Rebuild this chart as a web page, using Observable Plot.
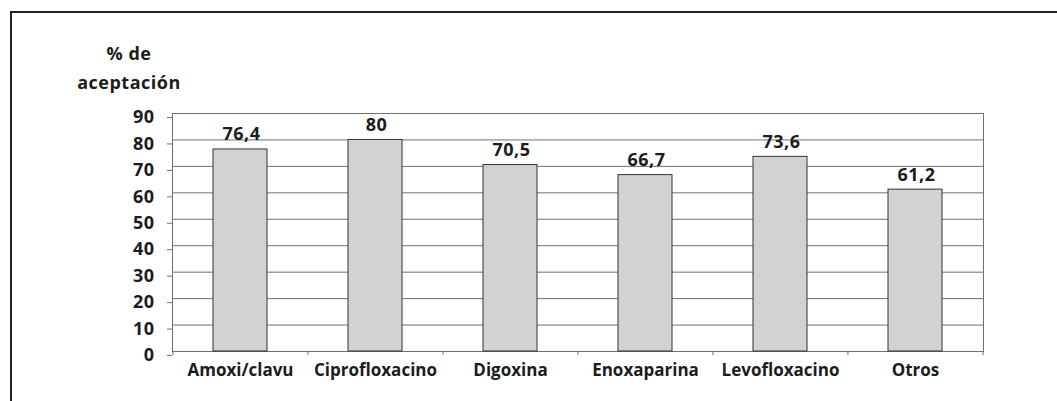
<!DOCTYPE html>
<html>
<head>
<meta charset="utf-8">
<script src="https://cdn.jsdelivr.net/npm/d3@7"></script>
<script src="https://cdn.jsdelivr.net/npm/@observablehq/plot@0.6"></script>
<style>
  body { margin: 0; background: #fff; }
  #wrap { position: relative; width: 1057px; height: 401px; overflow: hidden; background: #fff; }
  #wrap svg { position: absolute; left: 0; top: 0; }
  #wrap g[aria-label="x-axis tick label"] { letter-spacing: 0; }
  #border { position: absolute; left: 10px; top: 11px; width: 1200px; height: 600px;
            border-top: 2px solid #222; border-left: 2px solid #222; pointer-events: none; }
</style>
</head>
<body>
<div id="wrap"></div>
<script>
// ---- data ----
const categories = ["Amoxi/clavu", "Ciprofloxacino", "Digoxina", "Enoxaparina", "Levofloxacino", "Otros"];
const values = [76.4, 80, 70.5, 66.7, 73.6, 61.2];
const valueLabels = ["76,4", "80", "70,5", "66,7", "73,6", "61,2"];
const yTicks = [0, 10, 20, 30, 40, 50, 60, 70, 80, 90];
const yTitleLines = ["% de", "aceptación"];

// ---- layout / style ----
const W = 1057, H = 401;
const mL = 172, mR = 74, mT = 113, mB = 50;
const step = (W - mL - mR) / categories.length;
const gridColor = "#707070";
const textColor = "#1c1c1c";

const rows = categories.map((c, i) => ({category: c, value: values[i], label: valueLabels[i]}));

const chart = Plot.plot({
  width: W,
  height: H,
  marginLeft: mL,
  marginRight: mR,
  marginTop: mT,
  marginBottom: mB,
  style: {
    fontFamily: "'Open Sans', sans-serif",
    fontSize: "18px",
    fontWeight: "bold",
    letterSpacing: "0.5px",
    color: textColor,
    background: "transparent",
    overflow: "visible"
  },
  x: {domain: categories, paddingInner: 0.6, paddingOuter: 0.3, label: null},
  y: {domain: [0, 90], label: null},
  marks: [
    Plot.ruleY(yTicks, {stroke: gridColor, strokeWidth: 1}),
    Plot.frame({stroke: gridColor, strokeWidth: 1}),
    Plot.barY(rows, {x: "category", y: "value", fill: "#d1d2d4", stroke: "#333", strokeWidth: 1}),
    Plot.text(rows, {x: "category", y: "value", text: "label", dy: -9, dx: 1, lineAnchor: "bottom", fill: textColor}),
    Plot.axisY({ticks: yTicks, tickSize: 5, tickPadding: 13, stroke: gridColor, fill: textColor, dy: 4, label: null}),
    Plot.axisX({tickSize: 0, tickPadding: 12, fontSize: 17, fill: textColor, label: null}),
    Plot.axisX({tickSize: 4, tickFormat: () => "", dx: -step / 2, stroke: gridColor, label: null}),
    Plot.axisX({ticks: [categories[categories.length - 1]], tickSize: 4, tickFormat: () => "", dx: step / 2, stroke: gridColor, label: null}),
    Plot.text([yTitleLines.join("\n")], {
      frameAnchor: "top-left", dx: -43.5, dy: -24.7,
      textAnchor: "middle", lineAnchor: "bottom", lineHeight: 1.61, fill: textColor
    })
  ]
});

const wrap = document.getElementById("wrap");
wrap.appendChild(chart);
const border = document.createElement("div");
border.id = "border";
wrap.appendChild(border);
</script>
</body>
</html>
